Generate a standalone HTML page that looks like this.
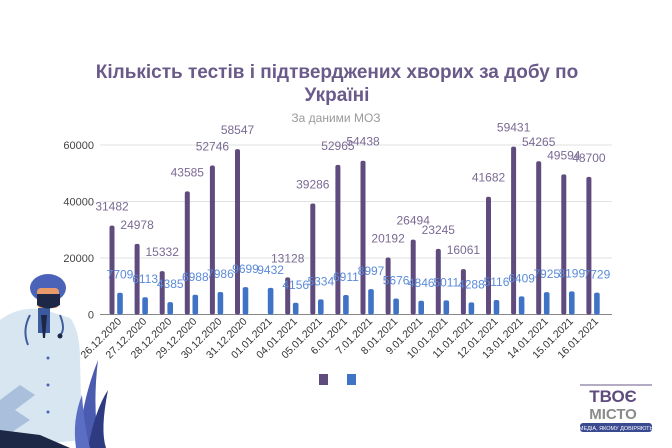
<!DOCTYPE html><html><head><meta charset="utf-8"><style>
html,body{margin:0;padding:0;background:#fff;width:672px;height:448px;overflow:hidden}
svg{display:block;font-family:"Liberation Sans",sans-serif}
</style></head><body>
<svg id="s" width="672" height="448" xmlns="http://www.w3.org/2000/svg">
<text x="337" y="78" text-anchor="middle" font-size="19" font-weight="bold" fill="#6a5a8a">Кількість тестів і підтверджених хворих за добу по</text>
<text x="337" y="101" text-anchor="middle" font-size="19" font-weight="bold" fill="#6a5a8a">Україні</text>
<text x="336" y="122" text-anchor="middle" font-size="12" fill="#9a9a9a">За даними МОЗ</text>
<g id="g"></g>
<rect x="319" y="374" width="9" height="11" fill="#5f4b7e"/>
<rect x="347" y="374" width="9" height="11" fill="#3f73c6"/>
<g>
<path d="M0 320 Q20 305 45 310 L70 318 Q80 330 80 360 L82 440 L0 448 Z" fill="#d7e6f0"/>
<path d="M0 400 L20 385 L35 395 L15 410 L30 420 L0 440 Z" fill="#a9bfdc"/>
<rect x="38" y="308" width="12" height="25" fill="#3c5a9e"/>
<path d="M41 315 L47 315 L45 338 L43 338 Z" fill="#1d2746"/>
<ellipse cx="48" cy="288" rx="18" ry="14" fill="#4a63b8"/>
<rect x="37" y="288" width="22" height="20" rx="4" fill="#e89a6a"/>
<path d="M37 294 L60 294 L60 305 Q48 312 37 305 Z" fill="#1d2746"/>
<path d="M30 315 Q22 330 28 345 M60 315 Q66 330 60 335" stroke="#3f5c9c" stroke-width="2" fill="none"/>
<circle cx="60" cy="336" r="2.5" fill="#1d2746"/>
<circle cx="48" cy="358" r="1.5" fill="#4a63b8"/><circle cx="48" cy="385" r="1.5" fill="#4a63b8"/><circle cx="48" cy="412" r="1.5" fill="#4a63b8"/>
<path d="M0 430 L40 435 L70 448 L0 448 Z" fill="#1d2746"/>
<path d="M78 448 Q82 400 98 360 Q92 410 100 448 Z" fill="#4a5bb0"/>
<path d="M88 448 Q95 410 108 390 Q100 430 106 448 Z" fill="#2e3b80"/>
<path d="M76 448 Q72 420 82 395 Q84 425 90 448 Z" fill="#5a6fc4"/>
</g>
<line x1="580" y1="385" x2="652" y2="385" stroke="#6a5a8a" stroke-width="1"/>
<text x="613" y="402" text-anchor="middle" font-size="17" font-weight="bold" fill="#5f4b7e">ТВОЄ</text>
<text x="613" y="419" text-anchor="middle" font-size="15" font-weight="bold" fill="#8a8a8a">МІСТО</text>
<rect x="580" y="423" width="72" height="9" rx="3" fill="#3a4a90"/>
<text x="616" y="430" text-anchor="middle" font-size="5.5" fill="#fff">МЕДІА, ЯКОМУ ДОВІРЯЮТЬ</text>
</svg>
<script>
var P=[31482,24978,15332,43585,52746,58547,0,13128,39286,52965,54438,20192,26494,23245,16061,41682,59431,54265,49594,48700];
var B=[7709,6113,4385,6988,7986,9699,9432,4156,5334,6911,8997,5676,4846,5011,4288,5116,6409,7925,8199,7729];
var D=["26.12.2020","27.12.2020","28.12.2020","29.12.2020","30.12.2020","31.12.2020","01.01.2021","04.01.2021","05.01.2021","6.01.2021","7.01.2021","8.01.2021","9.01.2021","10.01.2021","11.01.2021","12.01.2021","13.01.2021","14.01.2021","15.01.2021","16.01.2021"];
var y0=314.5,k=169.5/60000,h='';
for(var i=0;i<4;i++){var y=y0-i*20000*k;h+='<line x1="100" x2="612" y1="'+y+'" y2="'+y+'" stroke="'+(i?'#e2e2e2':'#888')+'" stroke-width="1"/>';
h+='<text x="94" y="'+(y+4)+'" text-anchor="end" font-size="11" fill="#444">'+(i*20000)+'</text>';}
for(var i=0;i<20;i++){var c=112+i*25.1;
if(P[i]){var t=y0-P[i]*k;h+='<rect x="'+(c-2.5)+'" y="'+t+'" width="5" height="'+(y0-t)+'" rx="2" fill="#5f4b7e"/>';
h+='<text x="'+c+'" y="'+(t-15)+'" text-anchor="middle" font-size="12" fill="#7a6a93">'+P[i]+'</text>';}
var bc=c+8,bt=y0-B[i]*k;h+='<rect x="'+(bc-2.8)+'" y="'+bt+'" width="5.6" height="'+(y0-bt)+'" rx="2" fill="#3f73c6"/>';
h+='<text x="'+bc+'" y="'+(bt-14)+'" text-anchor="middle" font-size="12" fill="#5b8bd8">'+B[i]+'</text>';
h+='<text transform="translate('+(c+10)+',322) rotate(-45)" text-anchor="end" font-size="10.5" fill="#333">'+D[i]+'</text>';}
document.getElementById('g').innerHTML=h;
</script>
</body></html>
